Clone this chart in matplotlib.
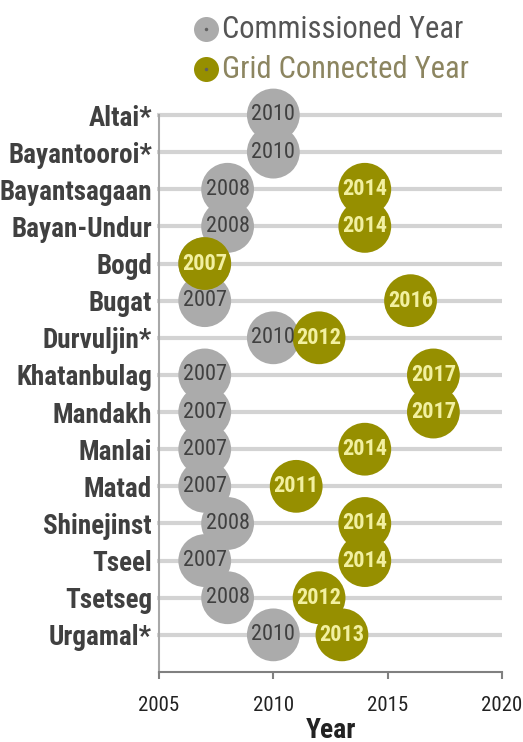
import matplotlib
matplotlib.use("Agg")
import matplotlib.pyplot as plt
from matplotlib.lines import Line2D

sites = ["Altai*", "Bayantooroi*", "Bayantsagaan", "Bayan-Undur", "Bogd", "Bugat",
         "Durvuljin*", "Khatanbulag", "Mandakh", "Manlai", "Matad", "Shinejinst",
         "Tseel", "Tsetseg", "Urgamal*"]
commissioned = [2010, 2010, 2008, 2008, 2007, 2007, 2010, 2007, 2007, 2007, 2007, 2008, 2007, 2008, 2010]
grid_connected = [None, None, 2014, 2014, 2007, 2016, 2012, 2017, 2017, 2014, 2011, 2014, 2014, 2012, 2013]
x_ticks = [2005, 2010, 2015, 2020]

GRAY = "#ABABAB"
OLIVE = "#968F00"
plt.rcParams["font.family"] = ["Roboto Condensed", "PT Sans Narrow", "Barlow Semi Condensed", "DejaVu Sans"]

fig = plt.figure(figsize=(5.23, 7.42), dpi=100)
ax = fig.add_axes([159 / 523, 1 - 672 / 742, (502 - 159) / 523, (672 - 115) / 742])

n = len(sites)
ypos = [n - i for i in range(n)]  # Altai at top

# grid lines per row
for y in ypos:
    ax.plot([2004.9, 2020], [y, y], color="#D3D3D3", lw=3, zorder=1, clip_on=False,
            solid_capstyle="butt")

ax.scatter(commissioned, ypos, s=38 ** 2, color=GRAY, edgecolors="none", zorder=3, clip_on=False)
gx = [g for g in grid_connected if g is not None]
gy = [y for g, y in zip(grid_connected, ypos) if g is not None]
ax.scatter(gx, gy, s=38 ** 2, color=OLIVE, edgecolors="none", zorder=4, clip_on=False)

for c, g, y in zip(commissioned, grid_connected, ypos):
    if g != c:
        ax.text(c, y, str(c), ha="center", va="center", fontsize=16, color="#404040", zorder=6)
    if g is not None:
        ax.text(g, y, str(g), ha="center", va="center", fontsize=16, color="#F2F0A0",
                fontweight="bold", zorder=6)

ax.set_xlim(2005, 2020)
ax.set_ylim(0, n)
ax.set_xticks(x_ticks)
ax.set_yticks(ypos)
ax.set_yticklabels(sites, fontsize=19.5, fontweight="bold", color="#404040")
ax.tick_params(axis="y", length=0, pad=5)
ax.tick_params(axis="x", direction="out", length=5, width=1.5, color="#808080",
               labelsize=15, labelcolor="#222222", pad=12)
for s in ["top", "right"]:
    ax.spines[s].set_visible(False)
ax.spines["left"].set_color("#A8A8A8")
ax.spines["left"].set_linewidth(1.5)
ax.spines["bottom"].set_color("#808080")
ax.spines["bottom"].set_linewidth(1.5)
ax.set_xlabel("Year", fontsize=20, fontweight="bold", color="#222222", labelpad=2)

# legend
for yy, col, label, tcol in [(29, GRAY, "Commissioned Year", "#555555"),
                             (69, OLIVE, "Grid Connected Year", "#8C8560")]:
    fig.add_artist(Line2D([206 / 523], [1 - yy / 742], transform=fig.transFigure,
                          marker="o", markersize=18, color=col, markeredgewidth=0))
    fig.add_artist(Line2D([206 / 523], [1 - yy / 742], transform=fig.transFigure,
                          marker="o", markersize=2.5, color="#606060", markeredgewidth=0))
    fig.text(222 / 523, 1 - yy / 742, label, fontsize=22, color=tcol, va="center", ha="left")

fig.savefig("out.png", dpi=100)
